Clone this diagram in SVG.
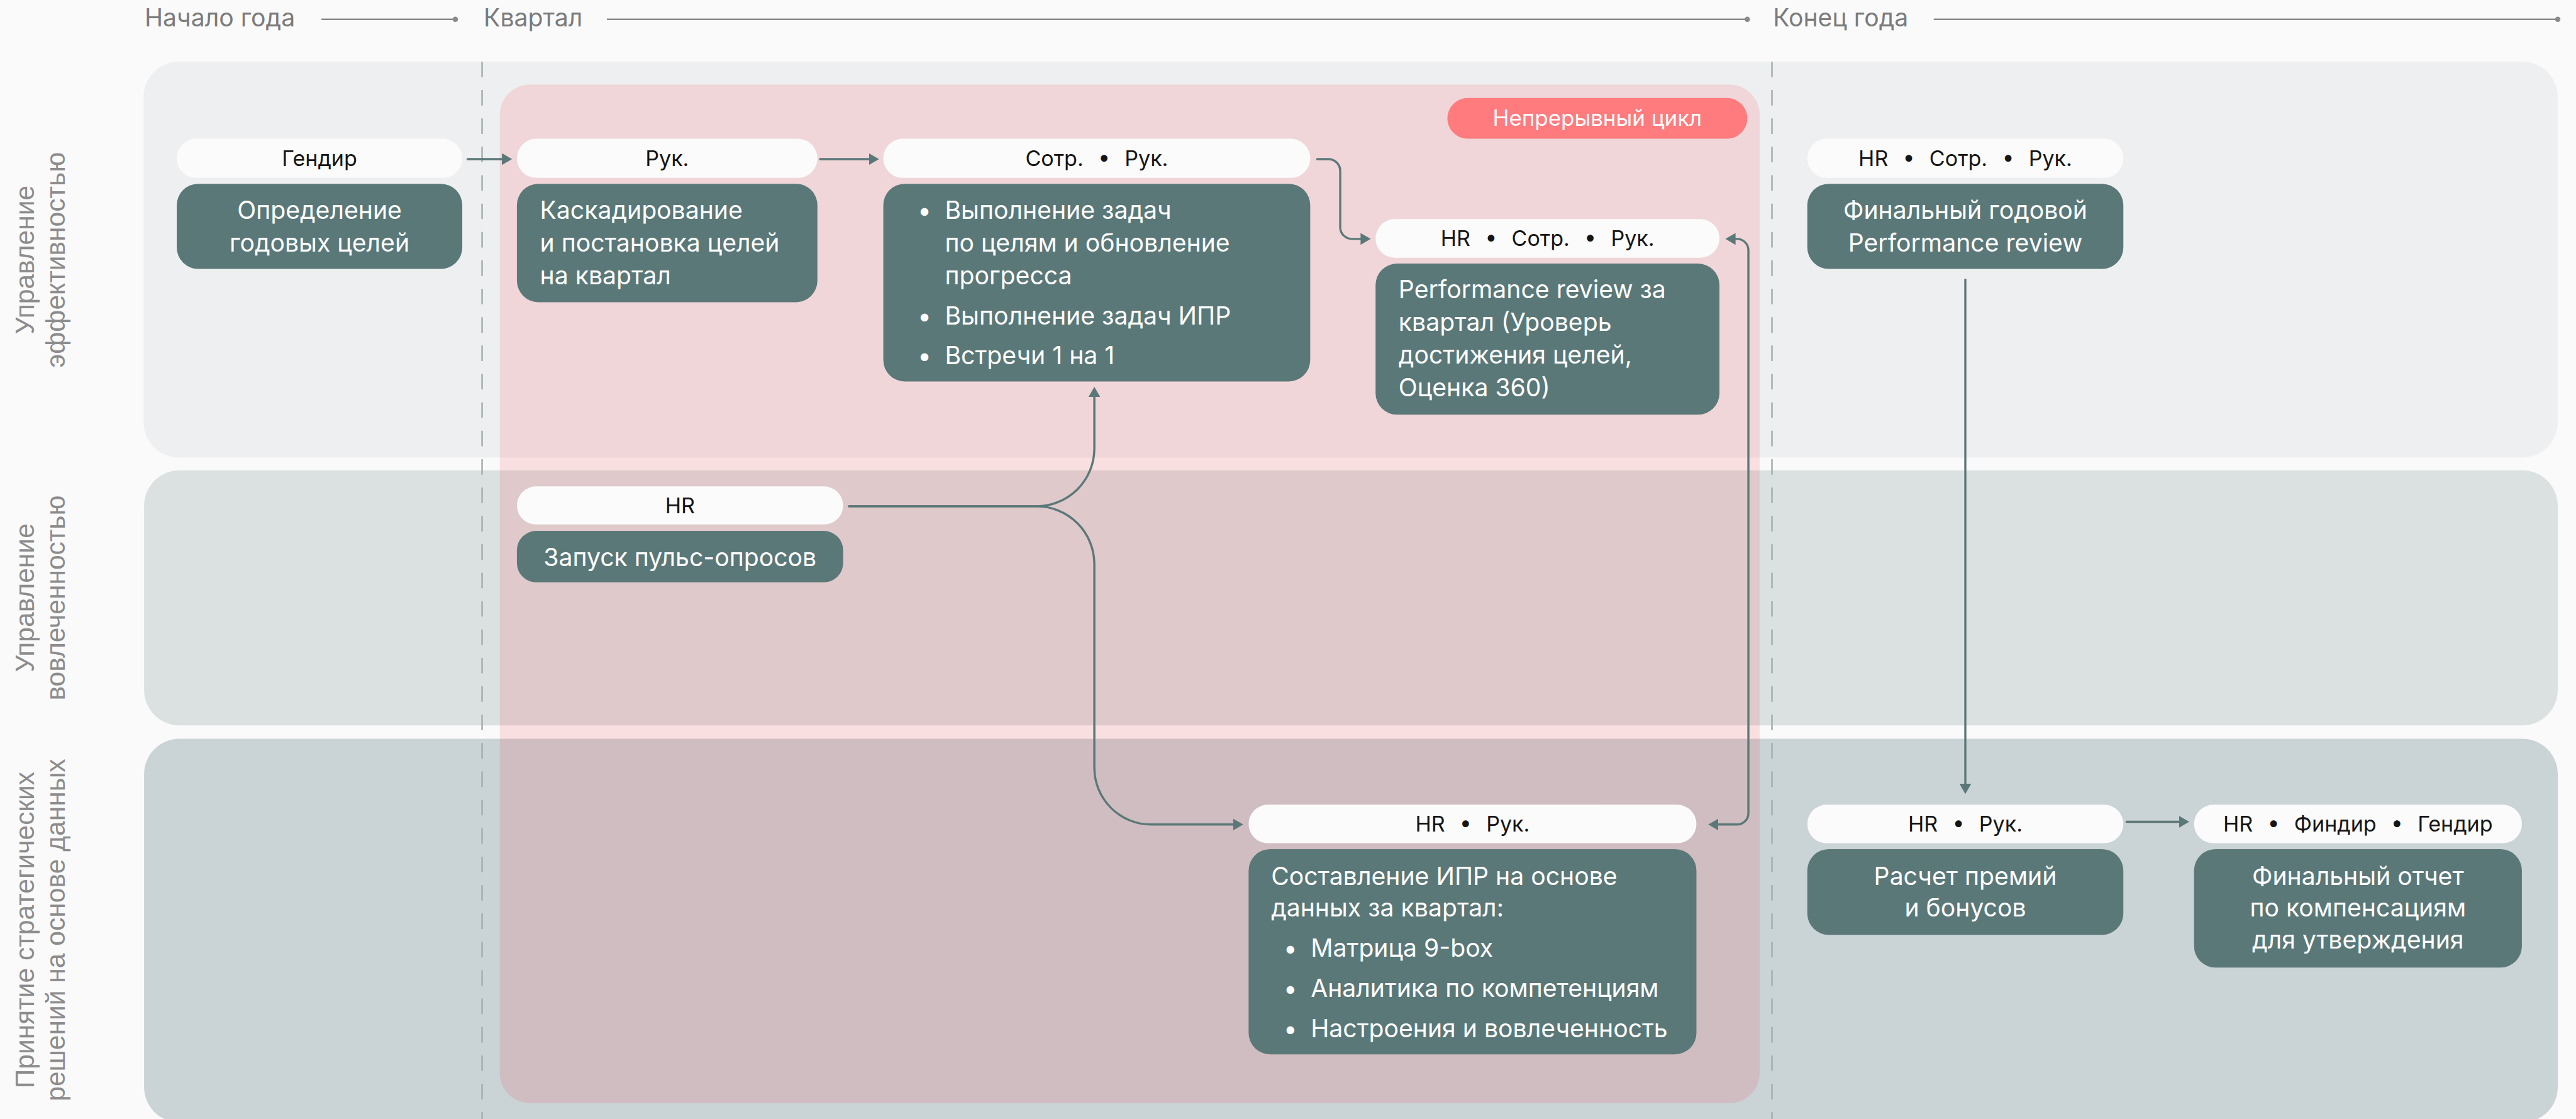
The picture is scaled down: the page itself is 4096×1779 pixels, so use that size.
<svg xmlns="http://www.w3.org/2000/svg" width="4096" height="1779" viewBox="0 0 4096 1779">
<defs>
<style>
.hdr{font-family:Inter,"Noto Sans",sans-serif;font-size:46px;fill:#7b7b7b}
.hline{stroke:#8a8a8a;stroke-width:3;fill:none}
.hdot{fill:#8a8a8a}
.lane-label{font-family:"Liberation Sans",Arial,sans-serif;font-size:50px;fill:#8c8c8c;text-anchor:middle}
.pill{fill:#fbfbfb}
.pill-t{font-family:Inter,"Noto Sans",sans-serif;font-size:40px;fill:#151515;text-anchor:middle;word-spacing:16px}
.badge-t{font-family:Inter,"Noto Sans",sans-serif;font-size:41px;fill:#ffffff;text-anchor:middle}
.body{fill:#5b7878}
.body-t{font-family:Inter,"Noto Sans",sans-serif;font-size:46px;fill:#ffffff}
.c{text-anchor:middle}
.conn{fill:none;stroke:#5b7878;stroke-width:4;stroke-linecap:round}
.dash{stroke:#a7afaf;stroke-width:3;stroke-dasharray:29 24}
</style>
<marker id="arr" viewBox="0 0 19 22" refX="13" refY="11" markerWidth="19" markerHeight="22" markerUnits="userSpaceOnUse" orient="auto-start-reverse"><path d="M0,0 L19,11 L0,22 z" fill="#5b7878"/></marker>
</defs>
<g transform="scale(0.85173)">
<rect x="0" y="0" width="4809" height="2089" fill="#fafafa"/>

<g id="timeline">
<text class="hdr" x="270" y="49">Начало года</text>
<line class="hline" x1="600" y1="36" x2="850" y2="36"/><circle class="hdot" cx="850" cy="36" r="5"/>
<text class="hdr" x="903" y="49">Квартал</text>
<line class="hline" x1="1133" y1="36" x2="3262" y2="36"/><circle class="hdot" cx="3262" cy="36" r="5"/>
<text class="hdr" x="3310" y="49">Конец года</text>
<line class="hline" x1="3610" y1="36" x2="4775" y2="36"/><circle class="hdot" cx="4775" cy="36" r="5"/>
</g>

<g id="lanes">
<rect id="lane-performance" x="268" y="115" width="4507" height="739" rx="66" fill="#eeeff1"/>
<rect id="lane-engagement" x="269" y="878" width="4506" height="476" rx="66" fill="#dbe1e1"/>
<rect id="lane-decisions" x="269" y="1379" width="4506" height="716" rx="66" fill="#cad3d5"/>
<text class="lane-label" transform="translate(63,485) rotate(-90)"><tspan x="0" y="0">Управление</tspan><tspan x="0" y="58">эффективностью</tspan></text>
<text class="lane-label" transform="translate(63,1116) rotate(-90)"><tspan x="0" y="0">Управление</tspan><tspan x="0" y="58">вовлеченностью</tspan></text>
<text class="lane-label" transform="translate(63,1736) rotate(-90)"><tspan x="0" y="0">Принятие стратегических</tspan><tspan x="0" y="58">решений на основе данных</tspan></text>
</g>

<rect id="cycle-area" x="933" y="158" width="2352" height="1901" rx="56" fill="#ff2d3d" fill-opacity="0.13"/>

<g id="dividers">
<line class="dash" x1="900" y1="115" x2="900" y2="2095"/>
<line class="dash" x1="3308" y1="115" x2="3308" y2="2095"/>
</g>

<g id="cycle-badge">
<rect x="2702" y="183" width="560" height="76" rx="38" fill="#ff7b7e"/>
<text class="badge-t" x="2982" y="235">Непрерывный цикл</text>
</g>

<g id="n-annual-goals">
<rect class="pill" x="330" y="259" width="533" height="73" rx="36.5"/>
<text class="pill-t" x="596.5" y="310">Гендир</text>
<rect class="body" x="330" y="343" width="533" height="159" rx="40"/>
<text class="body-t c" x="596.5" y="409">Определение</text>
<text class="body-t c" x="596.5" y="470">годовых целей</text>
</g>

<g id="n-cascading">
<rect class="pill" x="965" y="259" width="561" height="73" rx="36.5"/>
<text class="pill-t" x="1245.5" y="310">Рук.</text>
<rect class="body" x="965" y="343" width="561" height="221" rx="40"/>
<text class="body-t" x="1008" y="409">Каскадирование</text>
<text class="body-t" x="1008" y="470">и постановка целей</text>
<text class="body-t" x="1008" y="531">на квартал</text>
</g>

<g id="n-execution">
<rect class="pill" x="1649" y="259" width="797" height="73" rx="36.5"/>
<text class="pill-t" x="2047.5" y="310">Сотр. • Рук.</text>
<rect class="body" x="1649" y="343" width="797" height="369" rx="40"/>
<text class="body-t c" x="1726" y="409">•</text>
<text class="body-t" x="1764" y="409">Выполнение задач</text>
<text class="body-t" x="1764" y="470">по целям и обновление</text>
<text class="body-t" x="1764" y="531">прогресса</text>
<text class="body-t c" x="1726" y="606">•</text>
<text class="body-t" x="1764" y="606">Выполнение задач ИПР</text>
<text class="body-t c" x="1726" y="680">•</text>
<text class="body-t" x="1764" y="680">Встречи 1 на 1</text>
</g>

<g id="n-quarter-review">
<rect class="pill" x="2568" y="409" width="642" height="72" rx="36"/>
<text class="pill-t" x="2889" y="459">HR • Сотр. • Рук.</text>
<rect class="body" x="2568" y="492" width="642" height="282" rx="40"/>
<text class="body-t" x="2611" y="557">Performance review за</text>
<text class="body-t" x="2611" y="618">квартал (Уроверь</text>
<text class="body-t" x="2611" y="679">достижения целей,</text>
<text class="body-t" x="2611" y="740">Оценка 360)</text>
</g>

<g id="n-annual-review">
<rect class="pill" x="3374" y="259" width="590" height="73" rx="36.5"/>
<text class="pill-t" x="3669" y="310">HR • Сотр. • Рук.</text>
<rect class="body" x="3374" y="343" width="590" height="159" rx="40"/>
<text class="body-t c" x="3669" y="409">Финальный годовой</text>
<text class="body-t c" x="3669" y="470">Performance review</text>
</g>

<g id="n-pulse">
<rect class="pill" x="965" y="908" width="609" height="71" rx="35.5"/>
<text class="pill-t" x="1269.5" y="958">HR</text>
<rect class="body" x="965" y="991" width="609" height="96" rx="36"/>
<text class="body-t c" x="1269.5" y="1057">Запуск пульс-опросов</text>
</g>

<g id="n-idp">
<rect class="pill" x="2331" y="1502" width="836" height="72" rx="36"/>
<text class="pill-t" x="2749" y="1552">HR • Рук.</text>
<rect class="body" x="2331" y="1585" width="836" height="383" rx="40"/>
<text class="body-t" x="2373" y="1652">Составление ИПР на основе</text>
<text class="body-t" x="2373" y="1711">данных за квартал:</text>
<text class="body-t c" x="2409" y="1786">•</text>
<text class="body-t" x="2447" y="1786">Матрица 9-box</text>
<text class="body-t c" x="2409" y="1861">•</text>
<text class="body-t" x="2447" y="1861">Аналитика по компетенциям</text>
<text class="body-t c" x="2409" y="1936">•</text>
<text class="body-t" x="2447" y="1936">Настроения и вовлеченность</text>
</g>

<g id="n-bonus">
<rect class="pill" x="3374" y="1502" width="590" height="72" rx="36"/>
<text class="pill-t" x="3669" y="1552">HR • Рук.</text>
<rect class="body" x="3374" y="1585" width="590" height="160" rx="40"/>
<text class="body-t c" x="3669" y="1652">Расчет премий</text>
<text class="body-t c" x="3669" y="1711">и бонусов</text>
</g>

<g id="n-comp-report">
<rect class="pill" x="4096" y="1502" width="612" height="72" rx="36"/>
<text class="pill-t" x="4402" y="1552">HR • Финдир • Гендир</text>
<rect class="body" x="4096" y="1585" width="612" height="221" rx="40"/>
<text class="body-t c" x="4402" y="1652">Финальный отчет</text>
<text class="body-t c" x="4402" y="1711">по компенсациям</text>
<text class="body-t c" x="4402" y="1770">для утверждения</text>
</g>

<g id="connectors">
<path class="conn" d="M873 297 H950" marker-end="url(#arr)"/>
<path class="conn" d="M1531 297 H1635" marker-end="url(#arr)"/>
<path class="conn" d="M2459 297 H2480 A22 22 0 0 1 2502 319 V424 A22 22 0 0 0 2524 446 H2553" marker-end="url(#arr)"/>
<path class="conn" d="M1585 945 H1935 A108 108 0 0 0 2043 837 V728" marker-end="url(#arr)"/>
<path class="conn" d="M1585 945 H1935 A108 108 0 0 1 2043 1053 V1433 A106 106 0 0 0 2149 1539 H2315" marker-end="url(#arr)"/>
<path class="conn" d="M3195 1539 H3243 A21 21 0 0 0 3264 1518 V467 A21 21 0 0 0 3243 446 H3227" marker-start="url(#arr)" marker-end="url(#arr)"/>
<path class="conn" d="M3669 522 V1476" marker-end="url(#arr)"/>
<path class="conn" d="M3970 1534 H4081" marker-end="url(#arr)"/>
</g>
</g>
</svg>
